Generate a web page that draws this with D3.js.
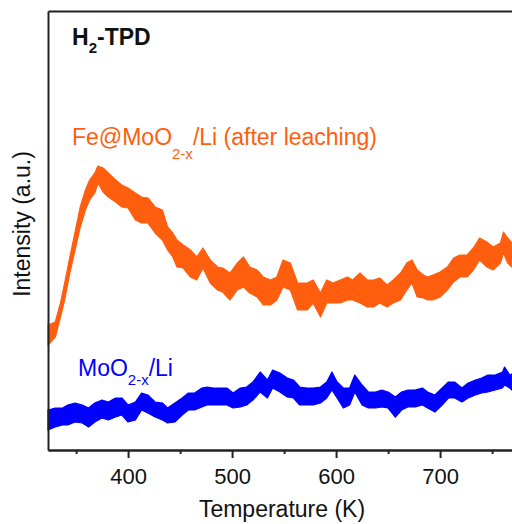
<!DOCTYPE html>
<html>
<head>
<meta charset="utf-8">
<script src="https://cdn.jsdelivr.net/npm/d3@7"></script>
<style>
  body { margin: 0; background: #ffffff; }
  svg text { font-family: "Liberation Sans", Arial, sans-serif; }
</style>
</head>
<body>
<div id="wrapper"></div>
<script>
// temperatures (K) with the upper / lower edge of each noisy trace (a.u.)
const feTemps = [323,330,335,339,344,349,354,359,363,368,371,376,381,388,394,400,407,413,419,426,
  433,438,443,447,453,460,466,472,479,486,491,498,505,511,517,524,530,537,543,549,
  556,563,572,578,585,591,597,604,611,616,623,630,636,642,649,655,662,668,673,678,
  684,688,693,700,707,713,719,726,732,738,745,751,758,761,765,769];
const feHigh = [125,128,147,167,193,218,243,260,270,277,284,282,277,270,265,262,257,253,252,243,
  240,223,217,210,205,200,193,202,190,183,182,177,187,193,183,180,173,170,173,190,
  187,167,167,170,157,170,167,170,173,170,177,170,170,172,165,170,177,187,190,180,
  175,173,175,178,183,192,195,195,202,212,208,203,207,218,212,207];
const feLow = [105,113,133,150,177,200,223,240,250,257,267,258,253,248,243,242,230,227,227,217,
  210,200,193,183,182,173,170,182,167,160,158,150,160,163,157,153,145,145,150,163,
  160,140,140,147,133,147,147,147,150,150,147,143,143,147,143,147,150,160,167,153,
  152,150,150,153,160,168,173,173,180,190,183,180,187,197,187,183];

const moTemps = [323,330,337,342,349,356,362,368,375,381,388,394,400,407,413,419,426,433,438,445,
  452,458,464,471,476,482,488,495,501,508,514,520,527,534,539,546,553,559,565,572,
  578,585,591,596,601,607,613,618,625,631,638,644,650,657,663,669,676,683,688,695,
  702,708,714,721,727,734,740,746,753,760,762,767,769];
const moHigh = [40,42,42,45,47,45,42,47,50,48,52,52,45,48,57,55,48,47,42,47,
  52,57,57,62,63,62,62,62,57,62,63,68,78,70,80,77,72,70,63,62,
  62,63,68,78,68,62,62,75,65,58,58,60,58,53,58,60,60,62,58,55,
  62,68,68,62,67,70,72,75,75,78,83,75,76];
const moLow = [20,23,25,25,28,27,23,28,32,30,33,35,28,30,40,37,33,30,27,28,
  35,40,40,43,45,45,45,45,42,43,45,50,58,52,62,58,53,52,45,45,
  45,47,52,60,52,42,45,58,45,42,42,43,42,33,40,43,43,45,42,38,
  45,52,52,48,52,55,57,58,60,62,65,62,60];

const majorTicks = [400, 500, 600, 700];
const minorTicks = [350, 450, 550, 650, 750];

function drawChart() {
  const orange = "#ff5e0e";
  const blue = "#0000ff";
  const axisColor = "#222222";

  const dimensions = {
    width: 512,
    height: 524,
    margins: { top: 11, left: 48, bottom: 74, right: -4 },
  };
  dimensions.boundedWidth = dimensions.width - dimensions.margins.left - dimensions.margins.right;
  dimensions.boundedHeight = dimensions.height - dimensions.margins.top - dimensions.margins.bottom;

  const svg = d3.select("#wrapper").append("svg")
    .attr("width", dimensions.width)
    .attr("height", dimensions.height);

  const bounds = svg.append("g")
    .attr("transform", `translate(${dimensions.margins.left},${dimensions.margins.top})`);

  const xScale = d3.scaleLinear()
    .domain([323, 773])
    .range([0, dimensions.boundedWidth]);

  const yScale = d3.scaleLinear()
    .domain([0, 439])
    .range([dimensions.boundedHeight, 0]);

  // accessors
  const xAccessor = d => d.t;
  const hiAccessor = d => d.hi;
  const loAccessor = d => d.lo;

  const feData = feTemps.map((t, i) => ({ t, hi: feHigh[i], lo: feLow[i] }));
  const moData = moTemps.map((t, i) => ({ t, hi: moHigh[i], lo: moLow[i] }));

  const bandGenerator = d3.area()
    .x(d => xScale(xAccessor(d)))
    .y0(d => yScale(loAccessor(d)))
    .y1(d => yScale(hiAccessor(d)));

  [[feData, orange], [moData, blue]].forEach(([data, color]) => {
    bounds.append("path")
      .attr("d", bandGenerator(data))
      .attr("fill", color)
      .attr("stroke", color)
      .attr("stroke-width", 1.2)
      .attr("stroke-linejoin", "round");
  });

  // axes / frame
  const xAxis = bounds.append("g")
    .attr("transform", `translate(0,${dimensions.boundedHeight})`)
    .call(d3.axisBottom(xScale).tickValues(majorTicks).tickSize(8).tickSizeOuter(0).tickPadding(10));
  bounds.append("g")
    .attr("transform", `translate(0,${dimensions.boundedHeight})`)
    .call(d3.axisBottom(xScale).tickValues(minorTicks).tickSize(4).tickSizeOuter(0).tickFormat(""));
  bounds.append("g")
    .call(d3.axisLeft(yScale).tickValues([]).tickSizeOuter(0));
  bounds.append("g")
    .call(d3.axisTop(xScale).tickValues([]).tickSizeOuter(0));
  bounds.append("g")
    .attr("transform", `translate(${dimensions.boundedWidth},0)`)
    .call(d3.axisRight(yScale).tickValues([]).tickSizeOuter(0));

  bounds.selectAll(".domain, .tick line")
    .attr("stroke", axisColor)
    .attr("stroke-width", 2);
  xAxis.selectAll(".tick text")
    .attr("font-size", 22)
    .attr("fill", "#111");

  // axis labels
  svg.append("text")
    .attr("x", 282)
    .attr("y", 517)
    .attr("text-anchor", "middle")
    .attr("font-size", 23)
    .attr("fill", "#111")
    .text("Temperature (K)");

  svg.append("text")
    .attr("transform", "translate(30,224) rotate(-90)")
    .attr("text-anchor", "middle")
    .attr("font-size", 23)
    .attr("fill", "#111")
    .text("Intensity (a.u.)");

  // annotations
  const title = svg.append("text")
    .attr("x", 72)
    .attr("y", 45)
    .attr("font-size", 23)
    .attr("font-weight", "bold")
    .attr("fill", "#111");
  title.append("tspan").text("H");
  title.append("tspan").attr("dy", 8).attr("font-size", 15).text("2");
  title.append("tspan").attr("dy", -8).text("-TPD");

  const feLabel = svg.append("text")
    .attr("x", 72)
    .attr("y", 145)
    .attr("font-size", 23)
    .attr("fill", orange);
  feLabel.append("tspan").text("Fe@MoO");
  feLabel.append("tspan").attr("dy", 14).attr("font-size", 15).text("2-x");
  feLabel.append("tspan").attr("dy", -14).text("/Li (after leaching)");

  const moLabel = svg.append("text")
    .attr("x", 78)
    .attr("y", 376)
    .attr("font-size", 23)
    .attr("fill", blue);
  moLabel.append("tspan").text("MoO");
  moLabel.append("tspan").attr("dy", 9).attr("font-size", 15).text("2-x");
  moLabel.append("tspan").attr("dy", -9).text("/Li");
}

drawChart();
</script>
</body>
</html>
